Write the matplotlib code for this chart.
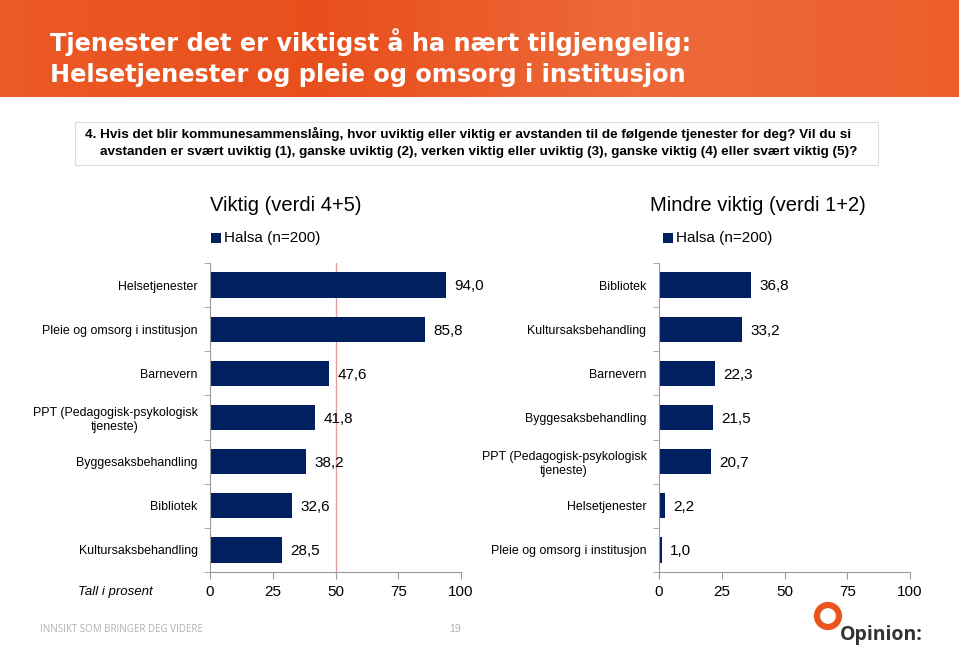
import numpy as np
import matplotlib.pyplot as plt
from matplotlib.patches import Rectangle, Ellipse
from matplotlib.colors import LinearSegmentedColormap

# Data (percent)
left_cats = ["Helsetjenester", "Pleie og omsorg i institusjon", "Barnevern",
             "PPT (Pedagogisk-psykologisk\ntjeneste)", "Byggesaksbehandling",
             "Bibliotek", "Kultursaksbehandling"]
left_vals = [94.0, 85.8, 47.6, 41.8, 38.2, 32.6, 28.5]

right_cats = ["Bibliotek", "Kultursaksbehandling", "Barnevern", "Byggesaksbehandling",
              "PPT (Pedagogisk-psykologisk\ntjeneste)", "Helsetjenester",
              "Pleie og omsorg i institusjon"]
right_vals = [36.8, 33.2, 22.3, 21.5, 20.7, 2.2, 1.0]

ticks = [0, 25, 50, 75, 100]
series_name = "Halsa (n=200)"

W, H = 959, 647
navy = "#002060"

plt.rcParams['font.family'] = ['Liberation Sans', 'DejaVu Sans']
fig = plt.figure(figsize=(W / 100, H / 100), dpi=100)

# header band with a soft gradient
bg = fig.add_axes([0, 1 - 97 / H, 1, 97 / H])
grad = np.linspace(0, 1, 256)[None, :]
cmap = LinearSegmentedColormap.from_list("hdr", ["#EC5A26", "#E84F1C", "#EE6A3A", "#EC5F2C"])
bg.imshow(grad, aspect="auto", cmap=cmap, extent=[0, 1, 0, 1])
bg.set_axis_off()


def px(x, y):
    return x / W, 1 - y / H


fig.text(*px(50, 42), "Tjenester det er viktigst å ha nært tilgjengelig:", color="white",
         fontsize=17.3, fontweight="bold", family="DejaVu Sans", va="center")
fig.text(*px(50, 75), "Helsetjenester og pleie og omsorg i institusjon", color="white",
         fontsize=17.3, fontweight="bold", family="DejaVu Sans", va="center")

# question box
fig.patches.append(Rectangle(px(75, 165), 803 / W, 43 / H, transform=fig.transFigure,
                             facecolor="white", edgecolor="#DDDDDD", lw=0.8))
fig.text(*px(85, 134), "4. Hvis det blir kommunesammenslåing, hvor uviktig eller viktig er avstanden til de følgende tjenester for deg? Vil du si",
         fontsize=9.7, fontweight="bold", va="center")
fig.text(*px(100, 152), "avstanden er svært uviktig (1), ganske uviktig (2), verken viktig eller uviktig (3), ganske viktig (4) eller svært viktig (5)?",
         fontsize=9.7, fontweight="bold", va="center")


def panel(x0, cats, vals, title, tx, lx, redline):
    ax = fig.add_axes([x0 / W, 1 - 572 / H, 251 / W, 309 / H])
    y = np.arange(len(cats))
    ax.barh(y, vals, height=0.57, color=navy)
    ax.set_ylim(len(cats) - 0.5, -0.5)
    ax.set_xlim(0, 100)
    ax.set_yticks(y)
    ax.set_yticklabels(cats, fontsize=8.9, ha="right", multialignment="center")
    ax.tick_params(axis="y", length=0, pad=9)
    ax.set_yticks(np.arange(len(cats) + 1) - 0.5, minor=True)
    ax.tick_params(axis="y", which="minor", length=4, color="#999999")
    ax.set_xticks(ticks)
    ax.set_xticklabels([str(t) for t in ticks], fontsize=11)
    ax.tick_params(axis="x", length=5, color="#999999", pad=4)
    for s in ["top", "right"]:
        ax.spines[s].set_visible(False)
    for s in ["left", "bottom"]:
        ax.spines[s].set_color("#999999")
    for yi, v in zip(y, vals):
        ax.annotate(f"{v:.1f}".replace(".", ","), (v, yi), xytext=(6, -1),
                    textcoords="offset points", va="center", fontsize=11)
    if redline:
        ax.axvline(50, color="#E0A0A0", lw=1, zorder=0)
    fig.text(*px(tx, 205), title, fontsize=14.5, va="center")
    fig.patches.append(Rectangle(px(lx, 243), 10 / W, 10 / H, transform=fig.transFigure,
                                 facecolor=navy, edgecolor="none"))
    fig.text(*px(lx + 13, 238), series_name, fontsize=11, va="center")
    return ax


axl = panel(210, left_cats, left_vals, "Viktig (verdi 4+5)", 210, 211, True)
axr = panel(659, right_cats, right_vals, "Mindre viktig (verdi 1+2)", 650, 663, False)

fig.text(*px(153, 592), "Tall i prosent", fontsize=9.5, style="italic", ha="right", va="center")

# footer
fig.text(*px(40, 629), "INNSIKT SOM BRINGER DEG VIDERE", fontsize=7, color="#B0B0B0",
         va="center", family="Open Sans")
fig.text(*px(455, 629), "19", fontsize=7.5, color="#B0B0B0", va="center", ha="center")
fig.patches.append(Ellipse(px(828, 616), 22 / W, 22 / H, transform=fig.transFigure,
                           facecolor="none", edgecolor="#E9541F", lw=4.5))
fig.text(*px(840, 635), "Opinion:", fontsize=14, fontweight="bold", color="#333333",
         va="center", family="Open Sans")

fig.savefig("out.png", dpi=100)
